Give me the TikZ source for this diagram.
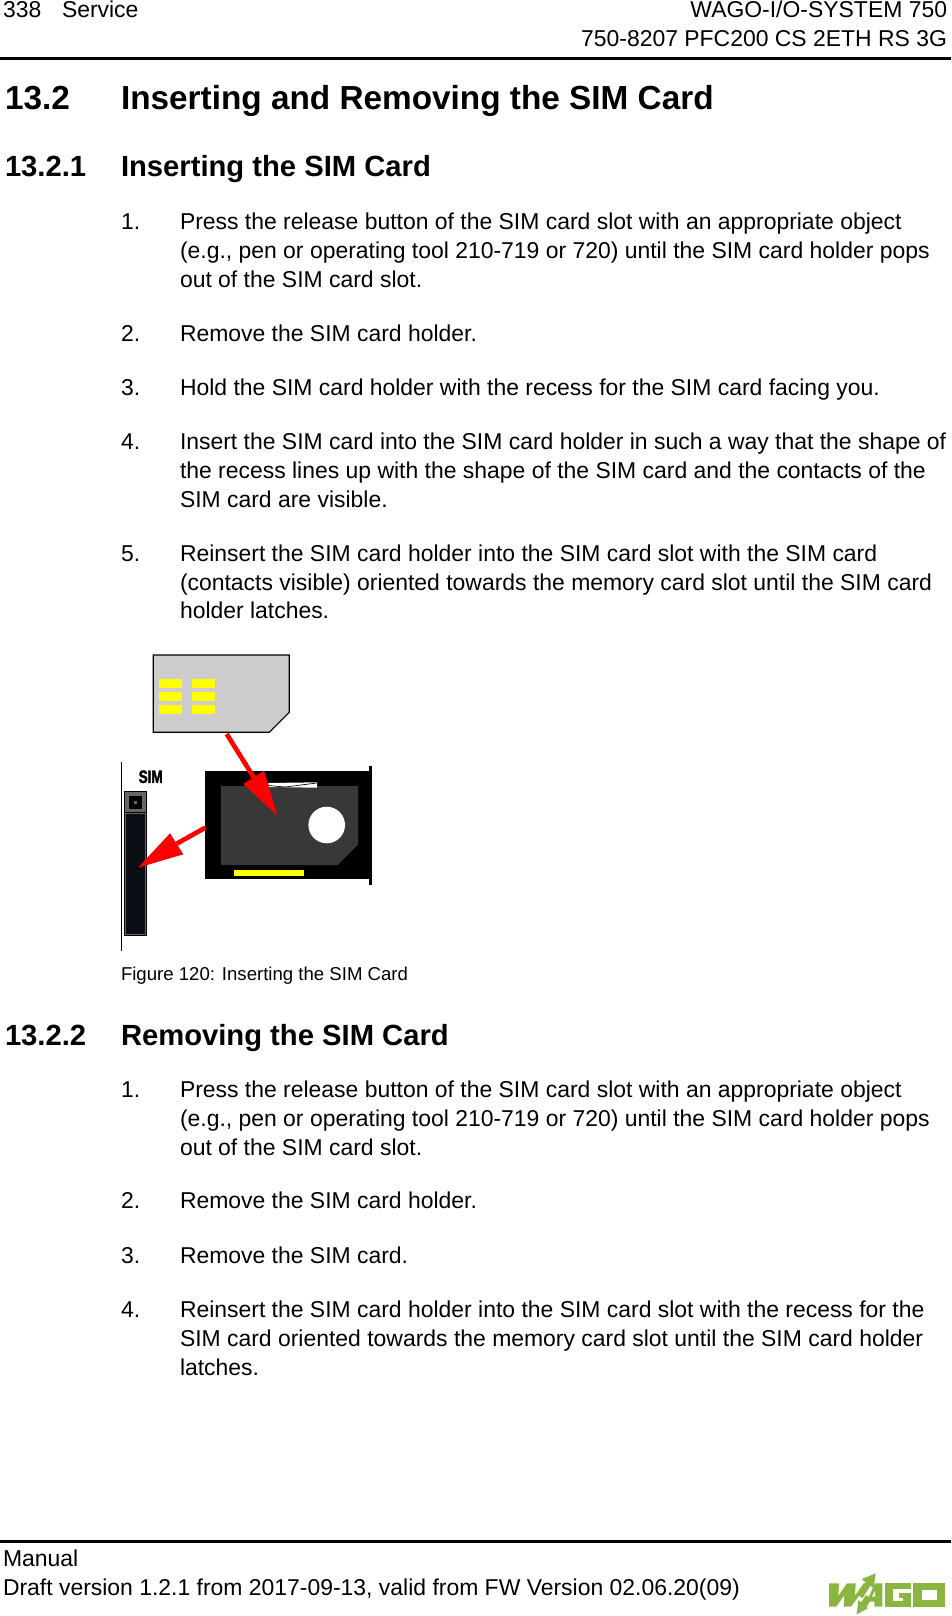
\documentclass[tikz,border=0pt]{standalone}
\usepackage{fontspec}
\setmainfont{Liberation Sans}
\newfontfamily\simfont[FakeBold=2.2]{Liberation Sans Bold}
\definecolor{wago}{HTML}{8AB63F}
\definecolor{cardgray}{HTML}{CCCCCC}
\definecolor{holdergray}{HTML}{383838}
\definecolor{slotdark}{HTML}{0A0D14}
\definecolor{slotgray}{HTML}{666666}
\definecolor{padyellow}{HTML}{FFFF00}
\tikzset{
  txt/.style={anchor=base west,inner sep=0pt,outer sep=0pt,font=\fontsize{17.2pt}{20pt}\selectfont},
  txtr/.style={txt,anchor=base east},
  capt/.style={anchor=base west,inner sep=0pt,outer sep=0pt,font=\fontsize{13.95pt}{16pt}\selectfont},
  hone/.style={anchor=base west,inner sep=0pt,outer sep=0pt,font=\fontsize{25pt}{28pt}\selectfont\bfseries},
  htwo/.style={anchor=base west,inner sep=0pt,outer sep=0pt,font=\fontsize{21.9pt}{24pt}\selectfont\bfseries},
  padfill/.style={fill=padyellow},
  redshaft/.style={draw=red,line width=3.5pt},
  redhead/.style={fill=red,draw=none},
  logo/.style={fill=wago,draw=none},
  logocut/.style={fill=white,draw=none},
  thinblack/.style={draw=black,line width=0.9pt}
}
\begin{document}
\begin{tikzpicture}[x=0.75pt,y=-0.75pt]
\useasboundingbox (0,0) rectangle (951,1616);
\fill[white] (0,0) rectangle (951,1616);
% header
\node[txt] (hp) at (3,17.5) {338};
\node[txt] (hs) at (62,17.5) {Service};
\node[txtr] (hr1) at (947,17.5) {WAGO-I/O-SYSTEM 750};
\node[txtr] (hr2) at (947,46.5) {750-8207 PFC200 CS 2ETH RS 3G};
\fill (0,57) rectangle (951,60);
% headings
\node[hone] (honen) at (5,110) {13.2};
\node[hone] (honet) at (121,110) {Inserting and Removing the SIM Card};
\node[htwo] (htwon) at (5,176) {13.2.1};
\node[htwo] (htwot) at (121,176) {Inserting the SIM Card};
% list 1
\node[txt] (an) at (121,229.5) {1.};
\node[txt] (aa) at (180,229.5) {Press the release button of the SIM card slot with an appropriate object};
\node[txt] (ab) at (180,258.5) {(e.g., pen or operating tool 210-719 or 720) until the SIM card holder pops};
\node[txt] (ac) at (180,287.5) {out of the SIM card slot.};
\node[txt] (bn) at (121,341) {2.};
\node[txt] (ba) at (180,341) {Remove the SIM card holder.};
\node[txt] (cn) at (121,395.5) {3.};
\node[txt] (ca) at (180,395.5) {Hold the SIM card holder with the recess for the SIM card facing you.};
\node[txt] (dn) at (121,449) {4.};
\node[txt] (da) at (180,449) {Insert the SIM card into the SIM card holder in such a way that the shape of};
\node[txt] (db) at (180,478) {the recess lines up with the shape of the SIM card and the contacts of the};
\node[txt] (dc) at (180,507) {SIM card are visible.};
\node[txt] (en) at (121,561) {5.};
\node[txt] (ea) at (180,561) {Reinsert the SIM card holder into the SIM card slot with the SIM card};
\node[txt] (eb) at (180,590) {(contacts visible) oriented towards the memory card slot until the SIM card};
\node[txt] (ec) at (180,618.5) {holder latches.};
% SIM card
\draw[fill=cardgray,line width=0.9pt] (153.3,655) -- (289.3,655) -- (289.3,712.3) -- (269.3,732.3) -- (153.3,732.3) -- cycle;
\foreach \yy in {679,692,705}{
  \fill[padfill] (159.3,\yy) rectangle (181.7,\yy+8.7);
  \fill[padfill] (192,\yy) rectangle (215,\yy+8.7);
}
% slot
\draw[thinblack] (121.3,762) -- (121.3,950.7);
\node[inner sep=0pt,font=\fontsize{13.5pt}{16pt}\selectfont\simfont] (simlabel) at (150.7,776.7) {\scalebox{0.75}[1]{SIM}};
\fill[black] (124,791.3) rectangle (146.7,935.7);
\fill[slotgray] (124.5,791.8) rectangle (146.2,812);
\fill[black] (129,796) rectangle (142.3,809.3);
\fill[slotgray] (134,801) rectangle (137.3,804.3);
\draw[fill=slotdark,draw=slotgray,line width=0.6pt] (125.7,813.3) rectangle (145,934);
% holder
\fill[black] (205,771) rectangle (369.3,879);
\fill[black] (369.3,766) rectangle (372,885);
\fill[holdergray] (221,786) -- (358,786) -- (358,844.7) -- (337.7,865) -- (221,865) -- cycle;
\fill[white] (268.3,783) -- (317,782.3) -- (317,787.7) -- (268.3,787) -- cycle;
\draw[black,line width=0.5pt] (268.3,785.5) -- (285,787) -- (316.7,783);
\fill[white] (326.7,825) circle (18.3);
\fill[padfill] (234,870) rectangle (304,876);
% arrows
\coordinate (ponea) at (226.7,734);
\coordinate (poneb) at (253.7,777.3);
\coordinate (ptwoa) at (205.3,827.7);
\coordinate (ptwob) at (176.7,843.7);
\draw[redshaft] (ponea) -- (poneb);
\fill[redhead] (243.3,784) -- (264,770.7) -- (277.3,815.7) -- cycle;
\draw[redshaft] (ptwoa) -- (ptwob);
\fill[redhead] (170,833.3) -- (183.3,854.3) -- (138,867.7) -- cycle;
% caption
\node[capt] (fig) at (121,980) {Figure 120: Inserting the SIM Card};
% section 2
\node[htwo] (hthreen) at (5,1045.5) {13.2.2};
\node[htwo] (hthreet) at (121,1045.5) {Removing the SIM Card};
\node[txt] (fn) at (121,1097) {1.};
\node[txt] (fa) at (180,1097) {Press the release button of the SIM card slot with an appropriate object};
\node[txt] (fb) at (180,1126) {(e.g., pen or operating tool 210-719 or 720) until the SIM card holder pops};
\node[txt] (fc) at (180,1155) {out of the SIM card slot.};
\node[txt] (gn) at (121,1208.5) {2.};
\node[txt] (ga) at (180,1208.5) {Remove the SIM card holder.};
\node[txt] (kn) at (121,1263) {3.};
\node[txt] (ka) at (180,1263) {Remove the SIM card.};
\node[txt] (mn) at (121,1317) {4.};
\node[txt] (ma) at (180,1317) {Reinsert the SIM card holder into the SIM card slot with the recess for the};
\node[txt] (mb) at (180,1346) {SIM card oriented towards the memory card slot until the SIM card holder};
\node[txt] (mc) at (180,1375) {latches.};
% footer
\fill (0,1540) rectangle (951,1543);
\node[txt] (fta) at (3,1566) {Manual};
\node[txt] (ftb) at (3,1595) {Draft version 1.2.1 from 2017-09-13, valid from FW Version 02.06.20(09)};
% logo
\begin{scope}[shift={(825,1565)},x=0.25pt,y=-0.25pt]
\fill[logo] (12,55) -- (42,55) -- (40,92) -- (66,55) -- (92,55) -- (90,92) -- (116,55) -- (128,55) -- (100,95) -- (78,125) -- (56,125) -- (58,90) -- (34,125) -- (12,125) -- cycle;
\fill[logo] (152,25) -- (146,70) -- (136,62) -- (112,100) -- (100,90) -- (122,52) -- (110,42) -- cycle;
\fill[logo] (150,55) -- (172,55) -- (172,125) -- (148,125) -- (148,110) -- (133,110) -- (126,125) -- (118,125) -- cycle;
\fill[logocut] (150,78) -- (150,95) -- (141,95) -- cycle;
\fill[logo] (95,148) -- (100,105) -- (108,112) -- (123,90) -- (135,98) -- (120,122) -- (128,130) -- cycle;
\fill[logo] (180,55) rectangle (257,125);
\fill[logocut] (203,73) rectangle (258,84);
\fill[logocut] (203,84) rectangle (222,107);
\fill[logocut] (222,98) rectangle (235,107);
\fill[logo] (265,55) rectangle (361,125);
\fill[logocut] (290,74) rectangle (337,106);
\end{scope}
\end{tikzpicture}
\end{document}
